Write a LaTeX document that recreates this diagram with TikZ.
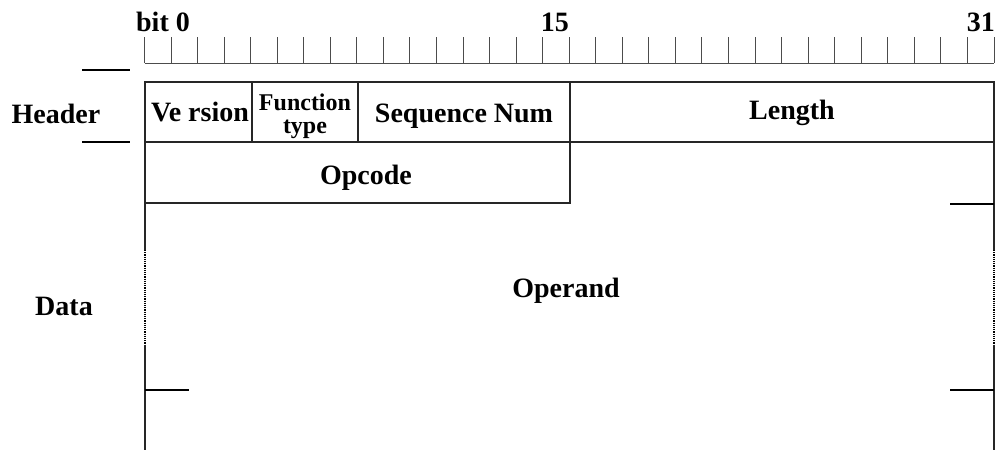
\documentclass[tikz,border=0pt]{standalone}
\usepackage{fontspec}
\setmainfont{Liberation Serif}
\begin{document}
\begin{tikzpicture}[x=1pt,y=-1pt,
  lbl/.style={inner sep=0pt,anchor=base,font=\bfseries\fontsize{28}{30}\selectfont},
  small/.style={inner sep=0pt,font=\bfseries\fontsize{24}{23}\selectfont,align=center},
  ruler/.style={draw=black!70,line width=1pt},
  box/.style={draw=black!85,line width=1.2pt},
  dots/.style={draw=black,line width=1.2pt,densely dotted},
  side/.style={draw=black,line width=1.2pt}]
\useasboundingbox (0,0) rectangle (998,450);
% ruler
\draw[ruler] (144.5,63) -- (994,63);
\foreach \i in {0,...,32}{
  \draw[ruler] ({144.5+\i*26.547},37) -- ({144.5+\i*26.547},63);
}
\node[lbl] (b0) at (163,31) {bit 0};
\node[lbl,anchor=base east] (b15) at (569,31) {15};
\node[lbl,anchor=base east] (b31) at (995,31) {31};
% header boxes
\draw[box] (145,82) rectangle (252,142);
\draw[box] (252,82) rectangle (358,142);
\draw[box] (358,82) rectangle (570,142);
\draw[box] (570,82) rectangle (994,142);
\draw[box] (145,142) rectangle (570,203);
\node[lbl] (ver) at (200,121) {V\kern-2.5pt e rsion};
\node[small] (fun) at (305,116) {Function\\type};
\node[lbl] (seq) at (464,122) {Sequence Num};
\node[lbl] (len) at (792,119) {Length};
\node[lbl] (opc) at (366,184) {Opcode};
\node[lbl] (opd) at (566,297) {Operand};
% side labels
\node[lbl] (hdr) at (56,123) {Header};
\node[lbl] (dat) at (64,315) {Data};
\draw[side] (82,70) -- (130,70);
\draw[side] (82,142) -- (130,142);
% data region
\draw[box] (145,203) -- (145,250);
\draw[dots] (145,250) -- (145,345);
\draw[box] (145,345) -- (145,450);
\draw[box] (994,142) -- (994,250);
\draw[dots] (994,250) -- (994,345);
\draw[box] (994,345) -- (994,450);
\draw[side] (145,390) -- (189,390);
\draw[side] (950,204) -- (994,204);
\draw[side] (950,390) -- (994,390);
\end{tikzpicture}
\end{document}
